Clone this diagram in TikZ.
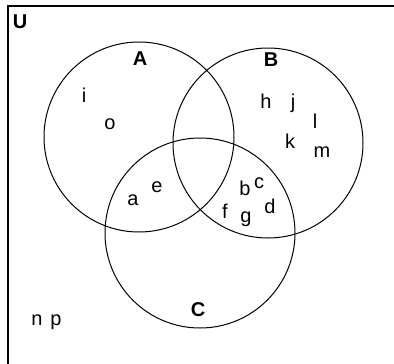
\documentclass[tikz,border=0pt]{standalone}
\usepackage{fontspec}
\setmainfont{Liberation Sans}
\begin{document}
\begin{tikzpicture}[x=1pt,y=-1pt,
  setcircle/.style={circle,draw=black,line width=1pt,minimum size=190pt,inner sep=0pt},
  setname/.style={font=\fontsize{20}{20}\selectfont\bfseries,inner sep=0pt},
  elem/.style={font=\fontsize{20}{20}\selectfont,inner sep=0pt,anchor=base}]
  \useasboundingbox (0,0) rectangle (394,364);
  % universe frame (only top and left edges fall inside the page)
  \draw[line width=1.8pt] (8,364) -- (8,6) -- (394,6);
  % the three sets
  \node[setcircle] (A) at (139,137) {};
  \node[setcircle] (B) at (268,143) {};
  \node[setcircle] (C) at (200,233) {};
  % set names
  \node[setname] (lU) at (20,22) {U};
  \node[setname] (lA) at (140,59) {A};
  \node[setname] (lB) at (271,60) {B};
  \node[setname] (lC) at (198,310) {C};
  % elements
  \node[elem] (ei) at (84,102) {i};
  \node[elem] (eo) at (110,129) {o};
  \node[elem] (eh) at (266,108) {h};
  \node[elem] (ej) at (293,108) {j};
  \node[elem] (el) at (315,128) {l};
  \node[elem] (ek) at (290,148) {k};
  \node[elem] (em) at (322,157) {m};
  \node[elem] (ea) at (133,205) {a};
  \node[elem] (ee) at (157,192) {e};
  \node[elem] (eb) at (245,195) {b};
  \node[elem] (ec) at (259,188) {c};
  \node[elem] (ed) at (270,213) {d};
  \node[elem] (ef) at (225,218) {f};
  \node[elem] (eg) at (246,222) {g};
  \node[elem] (en) at (37,325) {n};
  \node[elem] (ep) at (56,325) {p};
\end{tikzpicture}
\end{document}
